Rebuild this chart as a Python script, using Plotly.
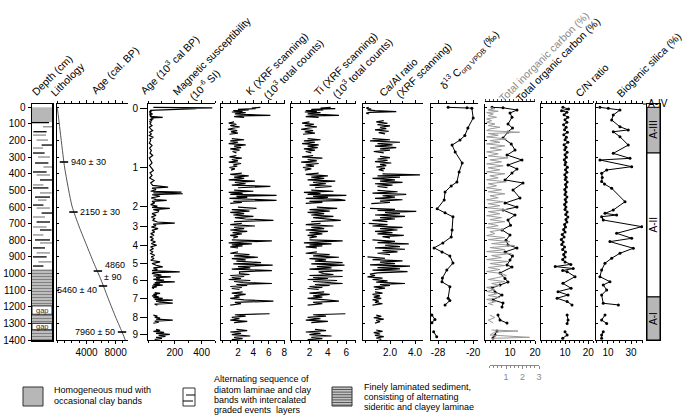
import plotly.graph_objects as go

# ------------------------------------------------------------------ data
depth_tick_vals = [0, 100, 200, 300, 400, 500, 600, 700, 800, 900, 1000, 1100, 1200, 1300, 1400]

# age-depth model (depth cm, calibrated age yr BP)
age_model_depth = [0, 10, 365, 594, 720, 829, 937, 1039, 1153, 1262, 1364, 1400]
age_model_cal = [-60, 0, 1000, 2000, 3000, 4000, 5000, 6000, 7000, 8000, 9000, 9320]
date_depth = [329, 630, 985, 1075, 1352]
date_cal = [900, 2200, 5560, 6260, 8880]
date_label = ["940 ± 30", "2150 ± 30", "4860", "5460 ± 40", "7960 ± 50"]
age_axis_depth = [10, 365, 594, 720, 829, 937, 1039, 1153, 1262, 1364]
age_axis_label = ["0", "1", "2", "3", "4", "5", "6", "7", "8", "9"]

# lithology
mud_top, mud_bottom = 0, 90
laminated_top = 975
gap_top = [1195, 1300]
gap_bottom = [1245, 1338]
dash_depth = [92, 117, 147, 167, 197, 227, 245, 275, 299, 335, 359, 389, 407, 437, 467, 485, 515,
              540, 558, 588, 606, 636, 660, 690, 720, 738, 768, 798, 816, 846, 876, 900, 930, 955]
dash_from = [0.0, 0.55, 0.07, 0.05, 0.23, 0.48, 0.05, 0.05, 0.3, 0.15, 0.57, 0.05, 0.23, 0.4, 0.05, 0.05, 0.4,
             0.15, 0.3, 0.05, 0.23, 0.48, 0.05, 0.23, 0.05, 0.4, 0.05, 0.15, 0.4, 0.05, 0.23, 0.05, 0.32, 0.05]
dash_to = [0.85, 1.0, 0.73, 0.7, 0.8, 1.0, 0.55, 0.63, 0.9, 0.82, 1.0, 0.73, 0.9, 1.0, 0.57, 0.82, 0.98,
           0.9, 0.73, 0.57, 0.9, 1.0, 0.65, 0.9, 0.73, 0.98, 0.57, 0.9, 1.0, 0.65, 0.9, 0.73, 0.98, 0.57]
dash_dark = [1, 0, 1, 0, 0, 1, 0, 1, 0, 1, 0, 1, 0, 1, 0, 1, 0,
             1, 0, 1, 0, 1, 0, 1, 0, 1, 0, 1, 0, 1, 0, 1, 0, 1]

# lithostratigraphic units
unit_name = ["A-III", "A-II", "A-I"]
unit_top = [0, 275, 1141]
unit_bottom = [275, 1141, 1400]

# magnetic susceptibility (depth, 10^-6 SI)
ms_pts = [(0, 40), (3, 480), (6, 300), (8, 360), (10, 260), (12, 120), (15, 40), (18, 15), (22, 30), (26, 10),
          (30, 20), (35, 12), (40, 35), (45, 10), (50, 25), (55, 15), (60, 110), (64, 20), (70, 40), (75, 12),
          (80, 30), (85, 10), (90, 22), (100, 15), (110, 30), (120, 10), (130, 20), (140, 35), (150, 12),
          (160, 25), (170, 10), (180, 40), (190, 15), (200, 20), (215, 10), (230, 30), (245, 12), (260, 25),
          (275, 15), (290, 35), (305, 10), (320, 20), (335, 30), (350, 12), (365, 25), (380, 40), (395, 15),
          (410, 30), (425, 12), (440, 45), (455, 20), (470, 35), (480, 150), (486, 30), (495, 60), (505, 20),
          (510, 250), (515, 40), (520, 260), (526, 30), (535, 90), (545, 25), (555, 60), (560, 140), (566, 30),
          (575, 50), (585, 20), (595, 70), (602, 30), (608, 163), (615, 40), (622, 80), (630, 75), (640, 30),
          (650, 60), (660, 25), (670, 50), (680, 35), (690, 70), (697, 200), (703, 40), (712, 60), (720, 25),
          (730, 75), (740, 30), (750, 50), (760, 20), (770, 45), (780, 15), (790, 40), (800, 20), (810, 55),
          (820, 25), (830, 65), (840, 20), (850, 40), (860, 15), (870, 35), (880, 20), (890, 50), (900, 25),
          (910, 45), (920, 20), (930, 90), (940, 30), (950, 60), (960, 110), (966, 40), (975, 70), (983, 30),
          (990, 237), (995, 40), (1000, 30), (1005, 60), (1010, 100), (1015, 40), (1020, 170), (1025, 60),
          (1030, 90), (1035, 40), (1040, 120), (1045, 60), (1050, 200), (1055, 50), (1060, 90), (1065, 40),
          (1070, 110), (1075, 30), (1080, 65), (1085, 30), (1090, 45), None,
          (1115, 50), (1120, 90), (1125, 40), (1130, 65), (1135, 30), (1140, 80), (1145, 40), (1150, 110),
          (1155, 50), (1160, 185), (1166, 60), (1172, 90), (1178, 185), (1184, 50), (1190, 70), None,
          (1250, 40), (1256, 70), (1262, 50), (1268, 90), (1274, 60), (1280, 185), (1286, 50), (1292, 80),
          (1298, 40), None,
          (1336, 60), (1342, 90), (1348, 40), (1354, 120), (1360, 60), (1366, 163), (1372, 80), (1378, 130),
          (1384, 60), (1390, 104), (1396, 50)]

# XRF scanning depth grid (cm) shared by K and Ti
xrf_depth = [0, 4, 8, 12, 16, 20, 24, 28, 32, 36, 40, 44, 48, 52, 56, 60, None,
             88, 95, 102, 110, 118, 125, 132, 140, 148, 155, 162, None,
             188, 195, 202, 210, 218, 226, 234, 242, 250, 258, 266, 274, None,
             290, 298, 306, 314, 322, 330, 338, 346, 354, 362, 370, 378, None,
             396, 404, 412, 420, 428, 436, 444, 452, 460, 468, 476, 484, None,
             498, 505, 512, 518, 524, 530, 536, 542, 548, 554, 560, 566, 572, 578, None,
             600, 608, 616, 624, 632, 640, 648, 656, 664, 672, 680, 688, None,
             698, 706, 714, 722, 730, 738, 746, 754, 762, 770, 778, 786, None,
             798, 804, 810, 816, 822, 828, 834, 840, 846, None,
             870, 878, 886, 894, 902, 910, 918, 926, 934, 942, 950, 958, 966, 974, 982, 990,
             1000, 1006, 1012, 1018, 1024, 1030, 1036, 1042, 1048, 1054, 1060, 1066, 1072, 1078, 1084, 1090, 1096, None,
             1110, 1118, 1126, 1134, 1142, 1150, 1158, 1166, 1174, 1182, 1190, None,
             1242, 1248, 1256, 1264, 1272, 1280, 1288, 1296, None,
             1336, 1344, 1352, 1360, 1368, 1376, 1384, 1392, 1398]
k_counts = [4.9, 3.8, 4.3, 2.0, 3.4, 1.4, 2.6, 1.2, 3.0, 2.2, 1.6, 3.5, 6.2, 2.2, 1.5, 2.8, None,
            1.5, 0.8, 1.8, 1.0, 2.2, 1.2, 0.7, 1.9, 1.1, 2.0, 0.9, None,
            1.2, 2.8, 1.0, 2.0, 0.8, 3.0, 1.5, 2.4, 1.0, 2.2, 1.3, 1.8, None,
            1.8, 0.9, 2.5, 1.2, 2.0, 0.8, 2.4, 1.4, 1.9, 0.9, 1.6, 1.1, None,
            2.5, 1.0, 3.4, 1.5, 2.8, 0.8, 4.2, 1.6, 3.0, 1.2, 6.2, 2.0, None,
            1.5, 4.0, 0.8, 2.6, 1.0, 7.0, 1.8, 3.2, 0.9, 5.0, 7.0, 1.4, 2.5, 1.0, None,
            2.0, 4.4, 1.2, 3.5, 1.0, 2.8, 1.4, 4.0, 1.6, 3.0, 6.6, 1.5, None,
            2.5, 1.0, 4.2, 1.5, 2.8, 1.0, 3.2, 1.3, 2.5, 1.0, 2.0, 1.4, None,
            1.2, 6.4, 2.5, 0.8, 3.8, 1.2, 2.6, 1.0, 2.0, None,
            2.0, 1.0, 3.5, 1.5, 4.6, 1.2, 3.0, 1.8, 5.0, 1.4, 6.5, 2.0, 3.6, 1.2, 6.4, 2.2,
            2.2, 3.5, 1.0, 2.8, 1.2, 2.4, 0.8, 3.6, 1.5, 2.6, 6.4, 1.8, 3.2, 1.0, 2.5, 1.2, 2.2, None,
            2.6, 1.2, 3.0, 1.5, 2.2, 1.0, 2.8, 6.6, 1.6, 2.4, 1.0, None,
            6.1, 1.6, 3.0, 1.2, 2.2, 1.0, 3.2, 1.5, None,
            1.8, 3.2, 1.0, 2.4, 1.2, 3.6, 1.5, 2.6, 1.2]
ti_counts = [4.3, 3.2, 4.8, 2.2, 3.5, 1.6, 2.8, 1.5, 3.2, 2.0, 1.8, 3.6, 5.2, 2.2, 1.6, 3.0, None,
             2.0, 1.2, 2.5, 1.5, 2.8, 1.6, 1.1, 2.4, 1.5, 2.6, 1.3, None,
             1.8, 3.2, 1.4, 2.6, 1.2, 3.0, 1.8, 2.9, 1.4, 2.6, 1.6, 2.2, None,
             2.4, 1.2, 3.4, 1.8, 2.8, 1.1, 3.0, 1.6, 2.5, 1.3, 2.2, 1.5, None,
             3.0, 1.6, 4.0, 2.2, 3.6, 1.8, 4.8, 2.4, 3.8, 2.0, 4.4, 2.6, None,
             2.2, 4.6, 1.4, 3.2, 1.8, 6.0, 2.4, 4.0, 1.6, 5.2, 5.9, 2.0, 3.4, 1.6, None,
             2.8, 5.0, 2.0, 4.2, 1.8, 3.6, 2.2, 4.6, 2.4, 3.8, 5.4, 2.2, None,
             3.2, 1.6, 4.6, 2.2, 3.6, 1.6, 4.0, 2.0, 3.4, 1.8, 2.8, 2.0, None,
             2.0, 5.6, 3.2, 1.4, 4.4, 2.0, 3.4, 1.6, 2.8, None,
             2.8, 1.6, 4.2, 2.4, 5.2, 2.0, 3.8, 2.6, 5.6, 2.2, 5.8, 2.8, 4.4, 2.0, 5.6, 3.0,
             3.5, 4.6, 2.0, 5.6, 2.4, 4.0, 1.8, 5.0, 2.4, 3.6, 5.6, 2.6, 4.2, 2.0, 3.4, 1.8, 3.0, None,
             3.6, 2.0, 4.2, 2.4, 3.4, 1.8, 3.8, 5.2, 2.4, 3.4, 1.8, None,
             5.9, 2.4, 3.8, 1.8, 3.2, 1.6, 4.0, 2.2, None,
             2.6, 3.8, 1.6, 3.2, 2.0, 4.4, 2.2, 3.4, 1.8]

# Ca/Al ratio (depth, ratio)
caal_pts = [(0, 0.3), (5, 0.1), (10, 0.5), (15, 0.2), (20, 0.8), (26, 2.5), (30, 0.4), (35, 0.1), (40, 0.3), None,
            (80, 1.5), (88, 0.9), (96, 1.8), (104, 1.0), (112, 2.0), (120, 1.2), (128, 1.7), (136, 0.8),
            (144, 1.9), (152, 1.1), (160, 1.6), None,
            (188, 0.6), (195, 2.0), (202, 0.4), (210, 2.8), (218, 1.0), (226, 2.2), (234, 0.8), (242, 2.5),
            (250, 1.2), (258, 2.0), (266, 0.7), (274, 1.5), None,
            (295, 1.2), (303, 2.0), (311, 1.0), (319, 1.8), (327, 0.8), (335, 2.1), (343, 1.2), (351, 1.7),
            (359, 0.9), (367, 1.6), (375, 1.1), (383, 1.5), None,
            (400, 1.4), (406, 4.4), (412, 1.0), (420, 2.8), (428, 0.6), (436, 2.4), (444, 1.2), (452, 3.0),
            (460, 0.8), (468, 2.2), (476, 1.0), (484, 1.8), None,
            (500, 1.0), (508, 2.6), (516, 0.6), (524, 3.3), (532, 1.4), (540, 2.4), (548, 0.8), (556, 3.0),
            (564, 1.2), (572, 2.0), (580, 0.5), None,
            (608, 0.4), (614, 2.4), (620, 1.0), (626, 4.1), (632, 1.6), (640, 2.8), (648, 0.8), (656, 3.2),
            (664, 1.2), (672, 2.4), (680, 0.6), (688, 1.8), None,
            (698, 0.3), (706, 1.8), (714, 0.6), (722, 3.0), (730, 1.2), (738, 2.6), (746, 0.8), (754, 2.2),
            (762, 1.0), (770, 3.1), (778, 1.4), (786, 2.0), None,
            (798, 0.6), (806, 2.4), (814, 1.0), (822, 3.5), (830, 1.6), (838, 2.8), (846, 0.8), (854, 3.2),
            (862, 1.4), (870, 2.6), (878, 1.0), (886, 2.0), None,
            (900, 0.2), (908, 1.6), (916, 0.6), (924, 3.0), (932, 1.2), (940, 2.4), (948, 0.4), (956, 3.6),
            (964, 1.0), (972, 2.8), (980, 0.6), (988, 3.4), (996, 1.0),
            (1004, 0.4), (1012, 0.8), (1020, 0.2), (1028, 1.4), (1036, 0.6), (1044, 1.8), (1052, 0.9),
            (1060, 3.2), (1066, 1.2), (1072, 2.0), (1080, 0.7), (1088, 1.6), (1096, 0.8), None,
            (1110, 0.8), (1118, 1.4), (1126, 0.6), (1134, 1.2), (1142, 0.7), (1150, 1.3), (1158, 0.6),
            (1166, 1.1), (1174, 0.8), (1182, 1.4), (1190, 0.6), None,
            (1250, 0.9), (1258, 1.3), (1266, 0.7), (1274, 1.5), (1282, 0.9), (1290, 1.2), (1298, 0.8), None,
            (1340, 0.9), (1348, 1.4), (1356, 0.7), (1364, 1.2), (1372, 0.8), (1380, 1.5), (1388, 0.9), (1396, 1.3)]

# delta13C org (depth, permil VPDB)
d13c_pts = [(0, -25.7), (2, -21.4), (5, -20.3), (64, -20.0), (124, -21.2), (170, -21.9), (197, -23.0),
            (227, -24.8), (269, -24.1), (335, -22.5), (389, -23.2), (449, -23.7), (473, -25.0), (509, -26.4),
            (557, -26.6), (611, -28.2), (635, -26.4), (659, -24.6), (738, -24.8), (780, -25.0), (816, -26.9),
            (846, -28.9), (870, -27.1), (894, -25.3), (937, -24.6), (979, -26.0), (1027, -27.0), (1050, -27.1),
            (1079, -25.3), (1149, -25.7), (1163, -25.3), (1189, -26.4), None,
            (1250, -29.4), (1276, -28.7), (1296, -29.4), None,
            (1350, -29.0), (1380, -28.3)]

# total organic carbon (depth, %)
toc_pts = [(0, 2.8), (3, 7.2), (16, 12.8), (34, 10.0), (60, 10.8), (100, 9.2), (125, 11.0), (148, 9.2),
           (185, 7.2), (220, 10.5), (257, 12.0), (287, 8.8), (317, 14.8), (347, 9.2), (371, 12.8), (395, 10.8),
           (437, 8.0), (455, 15.2), (497, 11.2), (546, 14.0), (576, 8.0), (600, 12.8), (618, 7.2), (648, 12.0),
           (678, 9.2), (710, 10.2), (738, 6.8), (768, 10.0), (800, 8.4), (828, 9.2), (846, 12.8), (870, 8.0),
           (895, 11.0), (919, 10.0), (949, 8.8), (961, 10.8), (997, 6.0), (1030, 8.0), (1051, 9.2), (1069, 6.0),
           (1087, 2.8), (1111, 4.0), (1129, 6.8), (1159, 3.2), (1177, 7.2), (1201, 6.8), None,
           (1250, 5.2), (1280, 6.0), (1298, 8.8), None,
           (1346, 4.8), (1370, 4.0), (1388, 3.2)]

# total inorganic carbon (depth, %)
tic_pts = [(0, 0.3), (8, 0.6), (16, 0.2), (24, 0.8), (32, 0.1), (40, 0.5), (50, 0.2), (60, 0.7), (70, 0.1),
           (80, 0.4), (90, 0.1), (100, 0.6), (110, 0.2), (120, 0.9), (130, 0.3), (140, 0.1), (150, 2.1),
           (158, 0.2), (168, 0.8), (178, 0.1), (190, 1.3), (200, 0.3), (210, 0.9), (220, 0.1), (232, 1.2),
           (244, 0.3), (256, 1.0), (268, 0.1), (280, 0.8), (292, 0.2), (304, 1.4), (316, 0.3), (328, 1.0),
           (340, 0.1), (352, 1.1), (364, 0.2), (376, 0.9), (388, 0.1), (400, 1.2), (412, 0.3), (424, 0.8),
           (436, 0.1), (448, 1.3), (460, 0.2), (472, 0.7), (484, 0.1), (496, 1.0), (508, 0.2), (520, 1.2),
           (532, 0.3), (544, 0.8), (556, 0.1), (568, 1.1), (580, 0.2), (592, 0.9), (604, 0.1), (616, 1.3),
           (628, 0.2), (640, 0.9), (652, 0.1), (664, 1.0), (676, 0.3), (688, 1.2), (700, 0.2), (712, 0.8),
           (724, 0.1), (736, 1.1), (748, 0.3), (760, 0.6), (772, 0.1), (784, 1.2), (796, 0.2), (808, 1.5),
           (820, 0.4), (832, 1.8), (844, 0.3), (856, 1.2), (868, 0.1), (880, 1.6), (892, 0.4), (904, 1.0),
           (916, 0.1), (928, 1.4), (940, 0.3), (952, 1.2), (964, 0.2), (976, 0.9), (988, 0.1), (1000, 1.0),
           (1012, 1.3), (1024, 0.8), (1036, 0.2), (1048, 1.2), (1060, 0.4), (1072, 0.9), (1084, 0.1),
           (1096, 0.6), (1108, 0.1), (1120, 0.8), (1132, 0.2), (1144, 0.9), (1156, 0.1), (1168, 0.7),
           (1180, 0.2), (1190, 0.5), None,
           (1250, 0.3), (1265, 0.6), (1280, 0.2), (1298, 0.5), None,
           (1340, 0.4), (1346, 2.0), (1352, 0.6), (1370, 0.3), (1384, 2.7), (1390, 0.4)]

# C/N ratio (depth, ratio)
cn_pts = [(0, 9.1), (10, 11.5), (20, 8.5), (30, 10.8), (45, 9.6), (60, 11.2), (75, 10.0), (90, 10.8), (105, 9.4),
          (120, 10.5), (135, 9.8), (150, 11.0), (165, 9.5), (180, 10.6), (195, 10.0), (210, 11.2), (225, 9.6),
          (240, 10.4), (255, 9.9), (270, 10.9), (285, 10.0), (300, 10.6), (315, 9.7), (330, 10.3), (345, 10.0),
          (360, 11.0), (375, 10.2), (390, 10.8), (405, 9.9), (420, 10.5), (435, 10.1), (450, 10.9), (465, 10.2),
          (480, 10.6), (495, 9.9), (510, 10.4), (525, 10.0), (540, 10.8), (555, 10.1), (570, 10.5), (585, 9.8),
          (600, 10.4), (615, 10.0), (630, 10.9), (645, 10.3), (660, 11.2), (675, 10.4), (690, 10.8), (705, 9.8),
          (720, 10.2), (735, 9.4), (750, 10.0), (765, 8.8), (780, 9.6), (795, 8.4), (810, 9.2), (825, 8.6),
          (840, 9.8), (855, 9.0), (870, 10.2), (885, 9.4), (900, 10.0), (915, 9.0), (930, 10.0), (945, 12.5),
          (958, 5.8), (970, 13.5), (982, 9.0), (989, 10.9), (1019, 14.3), (1059, 9.1), (1089, 12.6), (1109, 7.0),
          (1129, 11.3), (1149, 6.6), (1169, 10.9), (1189, 13.0), None,
          (1250, 10.9), (1280, 11.3), (1300, 10.9), None,
          (1350, 10.0), (1370, 10.9), (1390, 9.0)]

# biogenic silica (depth, %)
bsi_pts = [(0, 3.0), (6, 10.3), (16, 20.4), (46, 14.6), (76, 13.2), (117, 20.4), (136, 27.6), (147, 14.6),
           (177, 20.4), (227, 27.6), (277, 14.6), (307, 29.1), (317, 3.0), (357, 30.6), (377, 8.9), (397, 4.5),
           (422, 5.0), (447, 4.5), (462, 7.0), (487, 13.2), (568, 24.8), (618, 14.6), (638, 7.4), (648, 17.5),
           (658, 4.5), (678, 5.9), (718, 39.3), (758, 17.5), (788, 30.6), (808, 11.7), (848, 32.0), (878, 20.4),
           (908, 13.2), (938, 7.4), (979, 4.5), (1019, 3.0), (1049, 11.7), (1069, 5.9), (1099, 8.9), (1129, 4.5),
           (1179, 5.9), (1189, 19.0), None,
           (1250, 7.4), (1280, 4.5), (1300, 8.9), None,
           (1350, 5.9), (1370, 4.5), (1390, 4.5)]

legend_mud = ["Homogeneous mud with", "occasional clay bands"]
legend_alt = ["Alternating sequence of", "diatom laminae and clay", "bands with intercalated",
              "graded events  layers"]
legend_lam = ["Finely laminated sediment,", "consisting of alternating", "sideritic and clayey laminae"]


# ------------------------------------------------------------------ helpers
def split(pairs):
    d, v = [], []
    for p in pairs:
        if p is None:
            d.append(None)
            v.append(None)
        else:
            d.append(p[0])
            v.append(p[1])
    return d, v


W, H = 685, 416
FONT = "Liberation Sans, Arial, Helvetica, sans-serif"
MUD = "#b7b7b7"


def fx(p):
    return p / W


def fy(p):
    return 1 - p / H


YDOM = [fy(340), fy(104)]
DEPTH_RANGE = [1400, -20]

panels = {
    1: dict(px=(32, 52), rng=[0, 1]),
    2: dict(px=(57, 128), rng=[-60, 9700], tv=[4000, 8000], minor=1000),
    3: dict(px=(148, 215), rng=[0, 500], tv=[200, 400], minor=100),
    4: dict(px=(221, 285), rng=[-0.2, 8.1], tv=[2, 4, 6, 8], minor=1),
    5: dict(px=(291, 356), rng=[0, 7.05], tv=[2, 4, 6], minor=1),
    6: dict(px=(363, 423), rng=[-0.16, 4.64], tv=[2, 4], tt=["2.0", "4.0"], minor=1),
    7: dict(px=(431, 478), rng=[-29.6, -18.9], tv=[-28, -20], minor=2, tick0=-28),
    8: dict(px=(485, 535), rng=[0, 20], tv=[10, 20], minor=2),
    9: dict(px=(541, 593), rng=[-0.3, 22], tv=[10, 20], minor=2),
    10: dict(px=(596, 643), rng=[-0.4, 40.4], tv=[10, 30], minor=5),
    11: dict(px=(647, 660), rng=[0, 1]),
}

layout = dict(
    width=W, height=H, margin=dict(l=0, r=0, t=0, b=0, pad=0, autoexpand=False),
    paper_bgcolor="white", plot_bgcolor="rgba(0,0,0,0)",
    showlegend=False, font=dict(family=FONT, size=10, color="black"),
)

for i, p in panels.items():
    xs = "" if i == 1 else str(i)
    xa = dict(domain=[fx(p["px"][0]), fx(p["px"][1])], range=p["rng"], anchor="y" + xs,
              showgrid=False, zeroline=False, showline=True, linecolor="black", linewidth=1,
              fixedrange=True, automargin=False)
    ya = dict(domain=YDOM, range=DEPTH_RANGE, anchor="x" + xs, showgrid=False, zeroline=False,
              showline=True, linecolor="black", linewidth=1, fixedrange=True, automargin=False)
    if "tv" in p:
        xa.update(tickmode="array", tickvals=p["tv"], ticktext=p.get("tt", [str(v) for v in p["tv"]]),
                  ticks="outside", ticklen=3, tickwidth=1, tickcolor="black",
                  tickfont=dict(size=10), mirror="ticks" if i != 8 else False,
                  minor=dict(tickmode="linear", tick0=p.get("tick0", 0), dtick=p["minor"],
                             ticks="outside", ticklen=2, tickcolor="black", tickwidth=1))
    else:
        xa.update(mirror=True, ticks="", showticklabels=False)
    if i == 1:
        ya.update(mirror=True, linewidth=1.5, tickmode="array", tickvals=depth_tick_vals,
                  ticks="outside", ticklen=3, tickcolor="black", tickfont=dict(size=10))
        xa.update(linewidth=1.5)
    elif i == 3:
        ya.update(tickmode="array", tickvals=age_axis_depth, ticktext=age_axis_label,
                  ticks="outside", ticklen=7, tickcolor="black", tickfont=dict(size=10))
    elif i == 11:
        ya.update(mirror=True, ticks="", showticklabels=False)
    else:
        ya.update(tickmode="array", tickvals=depth_tick_vals, ticks="inside", ticklen=2,
                  tickcolor="black", showticklabels=False)
    layout["xaxis" + xs] = xa
    layout["yaxis" + xs] = ya

# TIC axis on top of TOC panel (data axis) and detached TIC scale below
layout["xaxis12"] = dict(overlaying="x8", side="top", anchor="free", position=fy(101),
                         range=[0, 3.03], showgrid=False, zeroline=False, showline=True,
                         linecolor="black", linewidth=1, ticks="outside", ticklen=2,
                         tickmode="linear", tick0=0, dtick=0.25, showticklabels=False,
                         fixedrange=True, automargin=False)
layout["xaxis13"] = dict(domain=[fx(489.5), fx(539)], anchor="free", position=fy(365), range=[0, 3],
                         showgrid=False, zeroline=False, showline=True, linecolor="#8a8a8a", linewidth=1,
                         tickmode="array", tickvals=[1, 2, 3], ticks="outside", ticklen=3,
                         tickcolor="#8a8a8a", tickfont=dict(size=9, color="#8a8a8a"),
                         minor=dict(tickmode="linear", tick0=0, dtick=0.25, ticks="outside",
                                    ticklen=2, tickcolor="#8a8a8a"),
                         fixedrange=True, automargin=False)

fig = go.Figure(layout=layout)

# ------------------------------------------------------------------ lithology column
fig.add_shape(type="rect", xref="x", yref="y", x0=0, x1=1, y0=mud_top, y1=mud_bottom,
              fillcolor=MUD, line=dict(width=0), layer="below")
fig.add_trace(go.Scatter(x=[0, 1, 1, 0, 0], y=[laminated_top, laminated_top, 1400, 1400, laminated_top],
                         xaxis="x", yaxis="y", mode="lines", line=dict(width=0), fill="toself",
                         fillcolor="#c4c4c4",
                         fillpattern=dict(shape="-", size=3, solidity=0.4, fgcolor="#3c3c3c",
                                          bgcolor="#c4c4c4"),
                         hoverinfo="skip"))
for dark, col, wid in [(1, "black", 1.3), (0, "#8c8c8c", 1.3)]:
    xx, yy = [], []
    for d, a, b, k in zip(dash_depth, dash_from, dash_to, dash_dark):
        if k == dark:
            xx += [a, b, None]
            yy += [d, d, None]
    fig.add_trace(go.Scatter(x=xx, y=yy, xaxis="x", yaxis="y", mode="lines",
                             line=dict(color=col, width=wid), hoverinfo="skip"))
for t, b in zip(gap_top, gap_bottom):
    fig.add_shape(type="rect", xref="x", yref="y", x0=0, x1=1, y0=t, y1=b, fillcolor="white",
                  line=dict(color="black", width=0.8), layer="above")
    fig.add_annotation(x=0.5, y=(t + b) / 2, xref="x", yref="y", text="gap", showarrow=False,
                       font=dict(size=7.5, color="#333"))

# ------------------------------------------------------------------ age-depth
fig.add_trace(go.Scatter(x=age_model_cal, y=age_model_depth, xaxis="x2", yaxis="y2", mode="lines",
                         line=dict(color="#555", width=1, shape="spline", smoothing=0.6), hoverinfo="skip"))
fig.add_trace(go.Scatter(x=date_cal, y=date_depth, xaxis="x2", yaxis="y2", mode="markers",
                         marker=dict(symbol="line-ew", size=6, line=dict(color="black", width=1.6)),
                         hoverinfo="skip"))
date_anchor = ["left", "left", "left", "right", "right"]
date_xs = [5, 5, 5, -4, -5]
date_ys = [0, 0, 6, -4, 0]
for a, d, lab, anc, xs_, ys_ in zip(date_cal, date_depth, date_label, date_anchor, date_xs, date_ys):
    fig.add_annotation(x=a, y=d, xref="x2", yref="y2", text=lab, showarrow=False, xanchor=anc,
                       yanchor="middle", xshift=xs_, yshift=ys_, font=dict(size=9))
fig.add_annotation(x=date_cal[2], y=date_depth[2], xref="x2", yref="y2", text="± 90", showarrow=False,
                   xanchor="left", yanchor="middle", xshift=4, yshift=-6, font=dict(size=9))

# ------------------------------------------------------------------ data panels
XRF_W = 1.2
d, v = split(ms_pts)
fig.add_trace(go.Scatter(x=v, y=d, xaxis="x3", yaxis="y3", mode="lines",
                         line=dict(color="black", width=XRF_W), hoverinfo="skip"))
fig.add_trace(go.Scatter(x=k_counts, y=xrf_depth, xaxis="x4", yaxis="y4", mode="lines",
                         line=dict(color="black", width=XRF_W), hoverinfo="skip"))
fig.add_trace(go.Scatter(x=ti_counts, y=xrf_depth, xaxis="x5", yaxis="y5", mode="lines",
                         line=dict(color="black", width=XRF_W), hoverinfo="skip"))
d, v = split(caal_pts)
fig.add_trace(go.Scatter(x=v, y=d, xaxis="x6", yaxis="y6", mode="lines",
                         line=dict(color="black", width=XRF_W), hoverinfo="skip"))
d, v = split(tic_pts)
fig.add_trace(go.Scatter(x=v, y=d, xaxis="x12", yaxis="y8", mode="lines",
                         line=dict(color="#9a9a9a", width=1), hoverinfo="skip"))
for pts, ax in [(d13c_pts, "7"), (toc_pts, "8"), (cn_pts, "9"), (bsi_pts, "10")]:
    d, v = split(pts)
    fig.add_trace(go.Scatter(x=v, y=d, xaxis="x" + ax, yaxis="y" + ax, mode="lines+markers",
                             line=dict(color="black", width=1),
                             marker=dict(color="black", size=3), hoverinfo="skip"))
fig.add_trace(go.Scatter(x=[None], y=[None], xaxis="x13", yaxis="y8", mode="markers", hoverinfo="skip"))

# ------------------------------------------------------------------ unit column
for name, t, b in zip(unit_name, unit_top, unit_bottom):
    fill = MUD if name != "A-II" else "white"
    fig.add_shape(type="rect", xref="x11", yref="y11", x0=0, x1=1, y0=t, y1=b, fillcolor=fill,
                  line=dict(color="black", width=1), layer="below")
    fig.add_annotation(x=0.5, y=(t + b) / 2, xref="x11", yref="y11", text=name, textangle=-90,
                       showarrow=False, font=dict(size=10))
fig.add_annotation(x=fx(646), y=fy(103), xref="paper", yref="paper", text="A-IV", xanchor="left",
                   yanchor="middle", showarrow=False, font=dict(size=10))
fig.add_shape(type="line", xref="paper", yref="paper", x0=fx(643), x1=fx(647), y0=fy(104), y1=fy(104),
              line=dict(color="black", width=1))

# ------------------------------------------------------------------ headers
headers = [
    ("Depth (cm)", 52, 75, "black"),
    ("Lithology", 67.5, 79, "black"),
    ("Age (cal. BP)", 115, 70, "black"),
    ("Age (10<sup>3</sup> cal BP)", 168.5, 64, "black"),
    ("Magnetic susceptibility", 211.5, 56, "black"),
    ("(10<sup>-6</sup> SI)", 203.5, 84.5, "black"),
    ("K (XRF scanning)", 276, 63.5, "black"),
    ("(10<sup>3</sup> total counts)", 292.5, 68.5, "black"),
    ("Ti (XRF scanning)", 345, 63.5, "black"),
    ("(10<sup>3</sup> total counts)", 361.5, 67.5, "black"),
    ("Ca/Al ratio", 398.5, 77.5, "black"),
    ("(XRF scanning)", 423.5, 70, "black"),
    ("δ<sup>13</sup> C<sub>org VPDB</sub> (‰)", 470, 60, "black"),
    ("Total inorganic carbon (%)", 543.5, 57, "#8a8a8a"),
    ("Total organic carbon (%)", 557.5, 60, "black"),
    ("C/N ratio", 592, 80, "black"),
    ("Biogenic silica (%)", 648.5, 65, "black"),
]
for txt, cx, cy, col in headers:
    fig.add_annotation(x=fx(cx), y=fy(cy), xref="paper", yref="paper", text=txt, textangle=-45,
                       showarrow=False, xanchor="center", yanchor="middle",
                       font=dict(size=10.5, color=col))

# ------------------------------------------------------------------ lithology legend
fig.add_shape(type="rect", xref="paper", yref="paper", x0=fx(23), x1=fx(43), y0=fy(406), y1=fy(387),
              fillcolor=MUD, line=dict(color="#333", width=1))
fig.add_shape(type="rect", xref="paper", yref="paper", x0=fx(183), x1=fx(195), y0=fy(406), y1=fy(388),
              fillcolor="white", line=dict(color="#333", width=1))
fig.add_shape(type="line", xref="paper", yref="paper", x0=fx(186), x1=fx(195), y0=fy(395), y1=fy(395),
              line=dict(color="black", width=1))
fig.add_shape(type="line", xref="paper", yref="paper", x0=fx(183), x1=fx(193), y0=fy(401), y1=fy(401),
              line=dict(color="black", width=1))
fig.add_shape(type="rect", xref="paper", yref="paper", x0=fx(332), x1=fx(352), y0=fy(406), y1=fy(387),
              fillcolor="#c4c4c4", line=dict(color="#333", width=1))
for k in range(7):
    yy = 389.5 + 2.6 * k
    fig.add_shape(type="line", xref="paper", yref="paper", x0=fx(332), x1=fx(352), y0=fy(yy), y1=fy(yy),
                  line=dict(color="#3c3c3c", width=0.8))

for lines, x0, ys in [(legend_mud, 52, [390, 401]), (legend_alt, 212, [379, 389.5, 400, 410]),
                      (legend_lam, 362, [387, 397, 407])]:
    for t, yy in zip(lines, ys):
        fig.add_annotation(x=fx(x0), y=fy(yy), xref="paper", yref="paper", text=t, showarrow=False,
                           xanchor="left", yanchor="middle", font=dict(size=9))

fig.write_html("out.html", config={"displayModeBar": False, "staticPlot": True},
               post_script="document.body.style.margin='0px';document.body.style.overflow='hidden';")
